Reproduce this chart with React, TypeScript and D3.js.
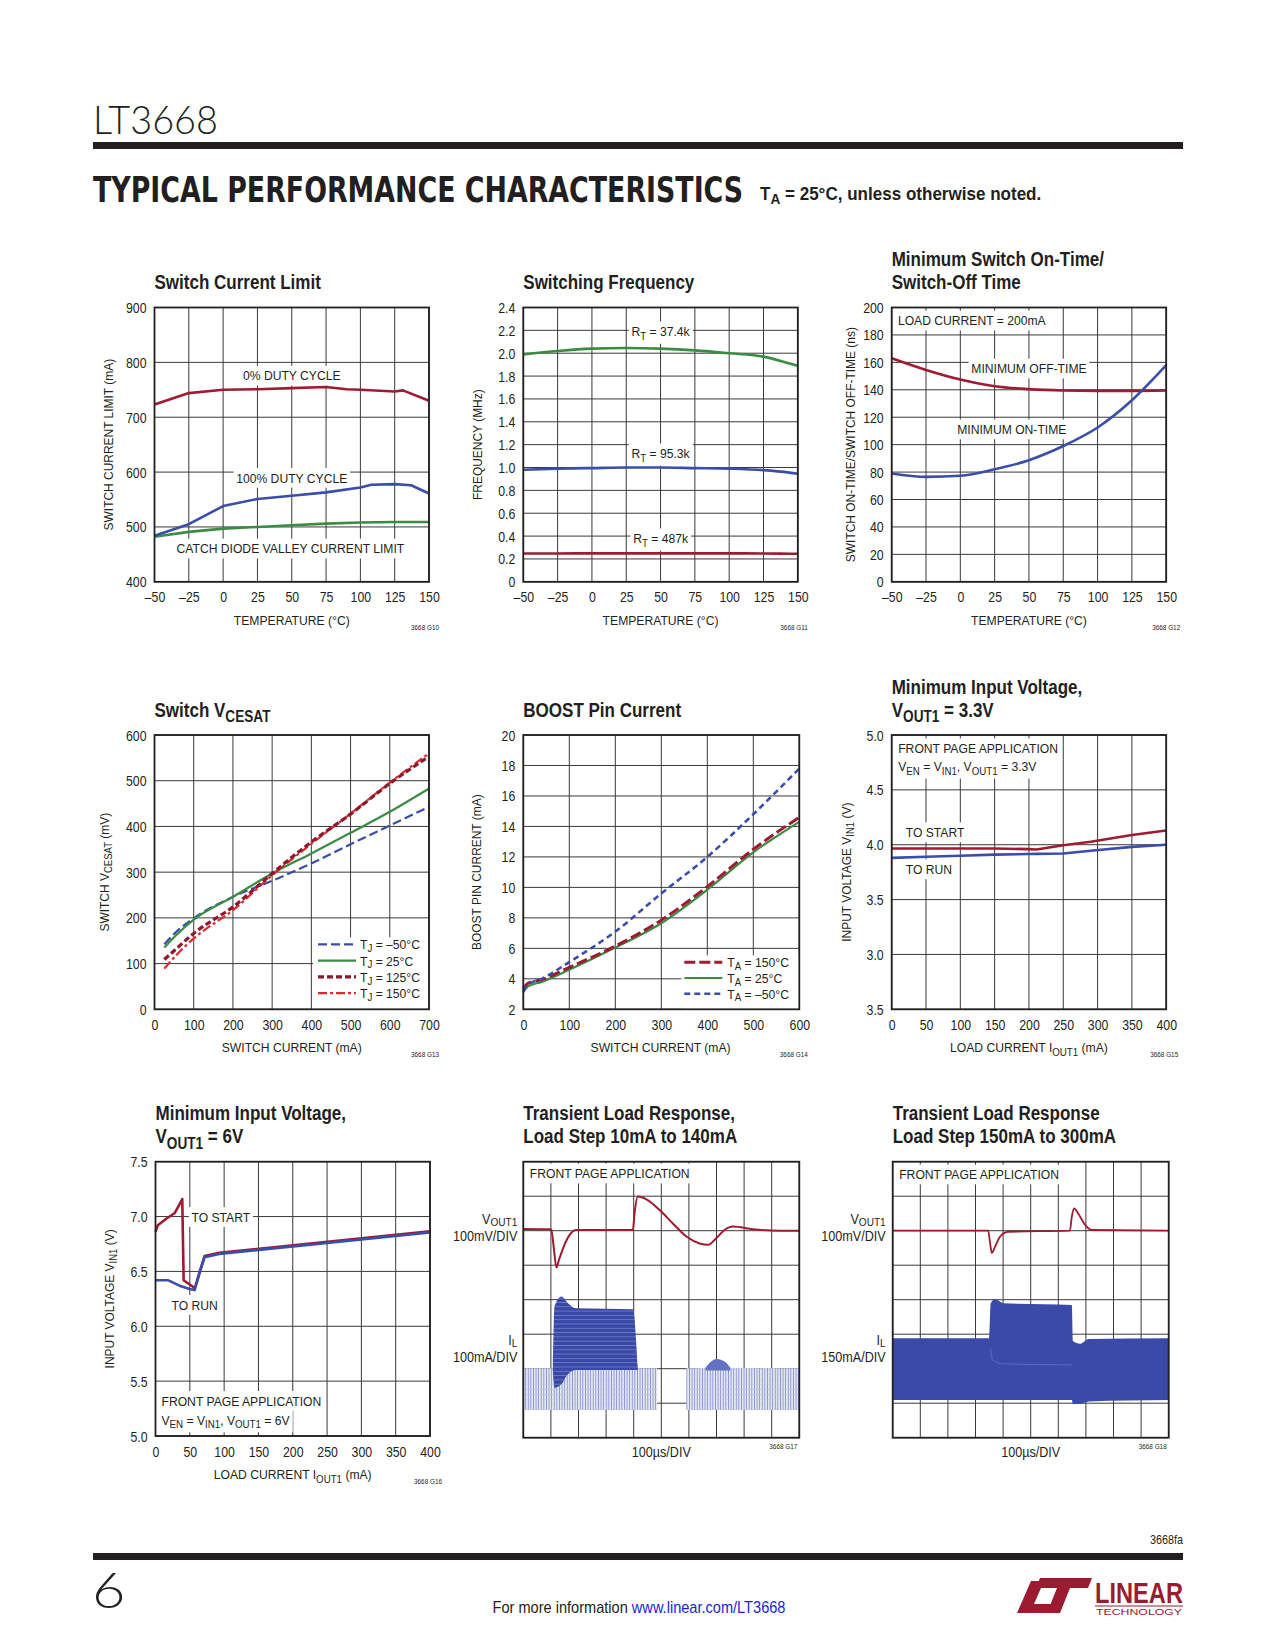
import React, { useEffect, useRef } from "react";
import * as d3 from "d3";

const FONT = "'Liberation Sans',Arial,Helvetica,sans-serif";
const INK = "#231f20";
const RED = "#9e1b32";
const BLUE = "#3b4dab";
const GREEN = "#3b8c43";
const GRID = "#3a3a3a";

// ---------------- data ----------------
const tempTicks = [-50, -25, 0, 25, 50, 75, 100, 125, 150];
const tempLabels = ["–50", "–25", "0", "25", "50", "75", "100", "125", "150"];

// Switch current limit
const sclYTicks = [400, 500, 600, 700, 800, 900];
const scl0Temp = [-50, -25, 0, 25, 50, 75, 90, 100, 125, 131, 150];
const scl0Val = [723, 744, 750, 751, 753, 755, 751, 750, 747, 749, 730];
const scl100Temp = [-50, -25, 0, 25, 50, 75, 100, 108, 125, 137, 150];
const scl100Val = [484, 505, 538, 551, 557, 563, 572, 577, 578, 576, 561];
const sclCatchTemp = [-50, -25, 0, 25, 50, 75, 100, 125, 150];
const sclCatchVal = [482, 491, 497, 500, 503, 506, 508, 509, 509];

// Switching frequency
const fsYTicks = [0, 0.2, 0.4, 0.6, 0.8, 1.0, 1.2, 1.4, 1.6, 1.8, 2.0, 2.2, 2.4];
const fsYLabels = ["0", "0.2", "0.4", "0.6", "0.8", "1.0", "1.2", "1.4", "1.6", "1.8", "2.0", "2.2", "2.4"];
const fsTemp = [-50, -25, 0, 25, 50, 75, 100, 125, 144, 150];
const fs374 = [1.99, 2.02, 2.04, 2.045, 2.04, 2.025, 2.0, 1.97, 1.91, 1.89];
const fs953 = [0.98, 0.99, 0.995, 1.0, 1.0, 0.995, 0.99, 0.977, 0.955, 0.945];
const fs487 = [0.248, 0.248, 0.249, 0.249, 0.249, 0.249, 0.249, 0.248, 0.246, 0.245];

// Min on/off time
const tonYTicks = [0, 20, 40, 60, 80, 100, 120, 140, 160, 180, 200];
const tonTemp = [-50, -25, 0, 25, 50, 75, 100, 125, 150];
const offTime = [163, 154.5, 147.5, 142.6, 140.5, 139.5, 139.2, 139.2, 139.5];
const onTime = [79, 76.5, 77.3, 82, 88.7, 99, 112.5, 132.4, 158];

// VCESAT
const vceXTicks = [0, 100, 200, 300, 400, 500, 600, 700];
const vceYTicks = [0, 100, 200, 300, 400, 500, 600];
const vceCurrent = [25, 55, 100, 200, 300, 400, 500, 600, 700];
const vceM50 = [142, 169, 199, 246, 281, 319, 361, 402, 443];
const vce25 = [135, 162, 196, 246, 297, 341, 386, 432, 483];
const vce125 = [109, 132, 166, 224, 297, 366, 427, 494, 553];
const vce150 = [89, 118, 155, 217, 293, 362, 428, 496, 560];

// BOOST pin current
const bstXTicks = [0, 100, 200, 300, 400, 500, 600];
const bstYTicks = [2, 4, 6, 8, 10, 12, 14, 16, 18, 20];
const bstCurrent = [0, 10, 40, 100, 200, 300, 400, 500, 600];
const bstM50 = [3.2, 3.6, 4.0, 5.1, 7.1, 9.6, 12.0, 14.8, 17.8];
const bst150 = [3.35, 3.7, 3.95, 4.75, 6.15, 7.85, 10.05, 12.5, 14.6];
const bst25 = [3.1, 3.5, 3.8, 4.6, 6.05, 7.65, 9.85, 12.3, 14.3];

// Min input voltage 3.3V
const loadTicks = [0, 50, 100, 150, 200, 250, 300, 350, 400];
const vin33YTicks = [2.5, 3.0, 3.5, 4.0, 4.5, 5.0];
const vin33YLabels = ["3.5", "3.0", "3.5", "4.0", "4.5", "5.0"];
const vin33Load = [0, 50, 100, 150, 200, 211, 250, 290, 350, 400];
const vin33Start = [3.966, 3.966, 3.966, 3.965, 3.96, 3.957, 3.995, 4.027, 4.088, 4.13];
const vin33Run = [3.88, 3.89, 3.9, 3.91, 3.915, 3.917, 3.92, 3.945, 3.98, 4.0];

// Min input voltage 6V
const vin6YTicks = [5.0, 5.5, 6.0, 6.5, 7.0, 7.5];
const vin6YLabels = ["5.0", "5.5", "6.0", "6.5", "7.0", "7.5"];
const vin6StartLoad = [0, 3.4, 15.6, 27.7, 34, 39, 41, 54.5, 57, 64, 71.5, 93, 400];
const vin6Start = [6.86, 6.92, 6.98, 7.03, 7.1, 7.16, 6.42, 6.36, 6.34, 6.49, 6.64, 6.67, 6.865];
const vin6RunLoad = [0, 18, 35, 49.6, 57, 64, 71.5, 93, 400];
const vin6Run = [6.42, 6.42, 6.37, 6.34, 6.33, 6.48, 6.63, 6.66, 6.855];

// Transients (scope divisions: x 0..10, y 0..8 from bottom)
const divX = [0, 1, 2, 3, 4, 5, 6, 7, 8, 9, 10];
const divY = [0, 1, 2, 3, 4, 5, 6, 7, 8];
const t1VoutX = [0, 1.01, 1.1, 1.2, 1.29, 1.44, 1.68, 1.92, 3.97, 4.03, 4.15, 4.46, 4.94, 5.42, 5.91, 6.39, 6.69, 6.99, 7.29, 7.59, 8.32, 9.29, 10];
const t1VoutY = [6.05, 6.04, 5.54, 4.93, 5.15, 5.49, 5.88, 6.02, 6.02, 6.5, 6.99, 6.91, 6.6, 6.21, 5.83, 5.63, 5.59, 5.78, 6.02, 6.12, 6.04, 6.0, 6.0];
const t1LightAX = [0, 4.85];
const t1LightATop = [2.01, 2.01];
const t1LightABot = [0.8, 0.8];
const t1LightBX = [5.9, 6.6, 6.8, 7.0, 7.3, 7.5, 10];
const t1LightBTop = [2.01, 2.03, 2.2, 2.28, 2.2, 2.03, 2.01];
const t1LightBBot = [0.8, 0.8, 0.8, 0.8, 0.8, 0.8, 0.8];
const t1HighX = [1.07, 1.13, 1.38, 1.62, 1.92, 3.97, 4.15];
const t1HighTop = [2.01, 3.8, 4.09, 3.9, 3.75, 3.72, 2.01];
const t1HighBot = [1.96, 1.45, 1.55, 1.85, 1.96, 1.96, 1.96];
const t1BumpX = [6.6, 6.8, 7.0, 7.3, 7.5];
const t1BumpTop = [2.03, 2.2, 2.28, 2.2, 2.03];
const t1BumpBot = [1.95, 1.95, 1.95, 1.95, 1.95];

const t2VoutX = [0, 3.46, 3.53, 3.59, 3.71, 3.89, 4.19, 6.42, 6.49, 6.57, 6.72, 6.97, 7.21, 10];
const t2VoutY = [6.0, 6.0, 5.63, 5.36, 5.54, 5.83, 5.97, 6.0, 6.41, 6.65, 6.5, 6.17, 6.02, 6.0];
const t2BandX = [0, 3.49, 3.55, 3.71, 4.01, 6.49, 6.53, 6.79, 7.1, 10];
const t2BandTop = [2.88, 2.88, 3.9, 4.01, 3.9, 3.85, 2.8, 2.72, 2.86, 2.88];
const t2BandBot = [1.09, 1.09, 1.09, 1.09, 1.09, 1.09, 0.98, 0.98, 1.05, 1.09];
const t2LowEnvX = [3.55, 3.62, 4.01, 6.49];
const t2LowEnvY = [2.6, 2.25, 2.14, 2.11];

// ---------------- layout ----------------
const COL = [154.5, 523.3, 891.7];
const ROW = [307.5, 735, 1161.7];
const W = 274.5;
const H = 274.3;
const TW = 276;
const TH = 276;

type Seg = { t: string; sub?: boolean; fill?: string };
const S = (t: string): Seg[] => [{ t }];

function rich(parent: any, x: number, y: number, segs: Seg[], size: number, opts: any = {}) {
  const sx = opts.sx === undefined ? 0.9 : opts.sx;
  const rot = opts.rotate ? ` rotate(${opts.rotate})` : "";
  const g = parent.append("g").attr("transform", `translate(${x},${y})${rot} scale(${sx},1)`);
  const t = g
    .append("text")
    .attr("x", 0)
    .attr("y", 0)
    .attr("font-family", opts.family || FONT)
    .attr("font-size", size)
    .attr("text-anchor", opts.anchor || "start")
    .attr("fill", opts.fill || INK);
  if (opts.weight) t.attr("font-weight", opts.weight);
  let shifted = false;
  const sh = size * (opts.subShift || 0.26);
  segs.forEach((s) => {
    const ts = t.append("tspan").text(s.t);
    if (s.fill) ts.attr("fill", s.fill);
    if (s.sub) {
      ts.attr("font-size", size * 0.8);
      if (!shifted) {
        ts.attr("dy", sh);
        shifted = true;
      }
    } else if (shifted) {
      ts.attr("dy", -sh);
      shifted = false;
    }
  });
  if (opts.fit) {
    const len = (t.node() as SVGTextElement).getComputedTextLength();
    if (len > 0) g.attr("transform", `translate(${x},${y})${rot} scale(${opts.fit / len},1)`);
  }
  return t;
}

function withBg(t: any, padX = 3, padY = 2) {
  const node = t.node() as SVGTextElement;
  const b = node.getBBox();
  d3.select(node.parentNode as any)
    .insert("rect", () => node)
    .attr("x", b.x - padX)
    .attr("y", b.y - padY)
    .attr("width", b.width + 2 * padX)
    .attr("height", b.height + 2 * padY)
    .attr("fill", "#fff");
  return t;
}

function frame(svg: any, f: any) {
  const g = svg.append("g");
  const x = d3.scaleLinear().domain(f.xDomain).range([f.left, f.left + f.w]);
  const y = d3.scaleLinear().domain(f.yDomain).range([f.top + f.h, f.top]);
  const grid = g.append("g");
  f.xGrid.forEach((v: number) =>
    grid.append("line").attr("x1", x(v)).attr("x2", x(v)).attr("y1", f.top).attr("y2", f.top + f.h).attr("stroke", GRID).attr("stroke-width", 1)
  );
  f.yGrid.forEach((v: number) =>
    grid.append("line").attr("x1", f.left).attr("x2", f.left + f.w).attr("y1", y(v)).attr("y2", y(v)).attr("stroke", GRID).attr("stroke-width", 1)
  );
  const bands = g.append("g");
  const labels = g.append("g");
  const curves = g.append("g");
  g.append("rect")
    .attr("x", f.left)
    .attr("y", f.top)
    .attr("width", f.w)
    .attr("height", f.h)
    .attr("fill", "none")
    .attr("stroke", INK)
    .attr("stroke-width", 1.8);
  if (f.xTicks) {
    const ax = d3
      .axisBottom(x)
      .tickValues(f.xTicks)
      .tickFormat((_d: any, i: number) => f.xLabels[i])
      .tickSize(0)
      .tickPadding(0);
    const a = g.append("g").attr("transform", `translate(0,${f.top + f.h + 20.5})`).call(ax);
    a.select(".domain").remove();
    a.selectAll("text")
      .attr("y", 0)
      .attr("dy", 0)
      .attr("font-family", FONT)
      .attr("font-size", 14)
      .attr("fill", INK)
      .attr("transform", "scale(0.88,1)");
  }
  if (f.yTicks) {
    const ay = d3
      .axisLeft(y)
      .tickValues(f.yTicks)
      .tickFormat((_d: any, i: number) => f.yLabels[i])
      .tickSize(0)
      .tickPadding(0);
    const a = g.append("g").attr("transform", `translate(${f.left - 8},0)`).call(ay);
    a.select(".domain").remove();
    a.selectAll("text")
      .attr("x", 0)
      .attr("dy", "0.36em")
      .attr("font-family", FONT)
      .attr("font-size", 14)
      .attr("fill", INK)
      .attr("transform", "scale(0.88,1)");
  }
  return { g, x, y, bands, labels, curves, f };
}

function title(svg: any, x: number, top: number, lines: Seg[][]) {
  const n = lines.length;
  lines.forEach((segs, i) => {
    rich(svg, x, top - 18.5 - (n - 1 - i) * 23, segs, 20.5, { weight: "bold", sx: 0.83 });
  });
}

function yTitle(svg: any, cx: number, cy: number, segs: Seg[]) {
  rich(svg, cx, cy, segs, 13, { anchor: "middle", rotate: -90, sx: 0.92 }).attr("dominant-baseline", "central");
}

function xTitle(svg: any, cx: number, y: number, segs: Seg[]) {
  rich(svg, cx, y, segs, 13.5, { anchor: "middle", sx: 0.9 });
}

function figId(svg: any, x: number, y: number, txt: string) {
  rich(svg, x, y, S(txt), 7.5, { anchor: "end", sx: 0.85 });
}

function note(parent: any, x: number, y: number, segs: Seg[], anchor = "start", size = 13.5) {
  return withBg(rich(parent, x, y, segs, size, { anchor, sx: 0.9 }));
}

function curve(parent: any, xs: number[], ys: number[], sx: any, sy: any, color: string, width: number, dash: string | null = null, cv: any = d3.curveMonotoneX) {
  const gen = d3
    .line<number>()
    .x((_d, i) => sx(xs[i]))
    .y((d) => sy(d))
    .curve(cv);
  const p = parent
    .append("path")
    .attr("d", gen(ys))
    .attr("fill", "none")
    .attr("stroke", color)
    .attr("stroke-width", width)
    .attr("stroke-linejoin", "round");
  if (dash) p.attr("stroke-dasharray", dash);
  return p;
}

function band(parent: any, xs: number[], top: number[], bot: number[], sx: any, sy: any, fill: string, cv: any = d3.curveLinear) {
  const gen = d3
    .area<number>()
    .x((_d, i) => sx(xs[i]))
    .y0((_d, i) => sy(bot[i]))
    .y1((d) => sy(d))
    .curve(cv);
  return parent.append("path").attr("d", gen(top)).attr("fill", fill);
}

function legend(c: any, rows: { segs: Seg[]; color: string; width: number; dash: string | null }[], bgLeft: number, bgTop: number, lineX1: number, lineX2: number, textX: number, firstY: number, step: number) {
  const f = c.f;
  c.labels
    .append("rect")
    .attr("x", f.left + f.w - bgLeft)
    .attr("y", f.top + f.h - bgTop)
    .attr("width", bgLeft)
    .attr("height", bgTop)
    .attr("fill", "#fff");
  const R = f.left + f.w;
  const B = f.top + f.h;
  rows.forEach((r, i) => {
    const yy = B - firstY + i * step;
    const ln = c.labels
      .append("line")
      .attr("x1", R - lineX1)
      .attr("x2", R - lineX2)
      .attr("y1", yy)
      .attr("y2", yy)
      .attr("stroke", r.color)
      .attr("stroke-width", r.width);
    if (r.dash) ln.attr("stroke-dasharray", r.dash);
    rich(c.labels, R - textX, yy + 5, r.segs, 13.5, { sx: 0.9, subShift: 0.2 });
  });
}

function header(svg: any) {
  rich(svg, 93, 134, S("LT3668"), 40, { family: "Lato,'Open Sans',sans-serif", weight: 300, fit: 125 });
  svg.append("rect").attr("x", 93).attr("y", 142).attr("width", 1090).attr("height", 7).attr("fill", INK);
  rich(svg, 93, 202, S("TYPICAL PERFORMANCE CHARACTERISTICS"), 36, { family: "'DejaVu Sans Condensed','DejaVu Sans',sans-serif", weight: "bold", fit: 650 });
  rich(svg, 760, 200, [{ t: "T" }, { t: "A", sub: true }, { t: " = 25°C, unless otherwise noted." }], 17.5, { weight: "bold", fit: 281, subShift: 0.22 });
}

function footer(svg: any) {
  rich(svg, 1183, 1544, S("3668fa"), 12, { anchor: "end", sx: 0.9 });
  svg.append("rect").attr("x", 93).attr("y", 1553).attr("width", 1090).attr("height", 7).attr("fill", INK);
  rich(svg, 92, 1608, S("6"), 50, { family: "Lato,'Open Sans',sans-serif", weight: 300, sx: 1.15 });
  rich(svg, 639, 1613, [{ t: "For more information " }, { t: "www.linear.com/LT3668", fill: "#1d1dd6" }], 16, { anchor: "middle", fit: 293 });
  const LR = "#9b1b30";
  svg
    .append("polygon")
    .attr("points", "1017,1613 1031,1581 1044,1581 1034,1604 1052,1604 1048,1613")
    .attr("fill", LR);
  svg
    .append("polygon")
    .attr("points", "1040,1578 1092,1578 1088,1588 1070,1588 1060,1613 1047,1613 1057,1588 1036,1588")
    .attr("fill", LR);
  rich(svg, 1095, 1603, S("LINEAR"), 29, { weight: "bold", fill: LR, fit: 88 });
  svg.append("line").attr("x1", 1095).attr("x2", 1183).attr("y1", 1606).attr("y2", 1606).attr("stroke", LR).attr("stroke-width", 1);
  rich(svg, 1096, 1615, S("TECHNOLOGY"), 9, { fill: LR, fit: 86 });
}

function drawAll(svg: any) {
  const defs = svg.append("defs");
  const pl = defs.append("pattern").attr("id", "ilLight").attr("patternUnits", "userSpaceOnUse").attr("width", 2.6).attr("height", 5);
  pl.append("rect").attr("width", 2.6).attr("height", 5).attr("fill", "#e6e9f6");
  pl.append("rect").attr("x", 0).attr("width", 0.8).attr("height", 5).attr("fill", "#7a86ca");
  pl.append("rect").attr("y", 4.3).attr("width", 2.6).attr("height", 0.5).attr("fill", "#bcc2e7");
  const pd = defs.append("pattern").attr("id", "ilDark").attr("patternUnits", "userSpaceOnUse").attr("width", 6).attr("height", 4.3);
  pd.append("rect").attr("width", 6).attr("height", 4.3).attr("fill", "#3a49a8");
  pd.append("rect").attr("y", 3.6).attr("width", 6).attr("height", 0.6).attr("fill", "#8792d0");

  header(svg);
  footer(svg);

  // ---- Chart 1: Switch Current Limit
  {
    const L = COL[0], T = ROW[0];
    const c = frame(svg, { left: L, top: T, w: W, h: H, xDomain: [-50, 150], yDomain: [400, 900], xGrid: tempTicks, yGrid: sclYTicks, xTicks: tempTicks, xLabels: tempLabels, yTicks: sclYTicks, yLabels: sclYTicks.map(String) });
    title(svg, L, T, [S("Switch Current Limit")]);
    yTitle(svg, L - 46, T + H / 2, S("SWITCH CURRENT LIMIT (mA)"));
    xTitle(svg, L + W / 2, T + H + 43, S("TEMPERATURE (°C)"));
    figId(svg, L + W + 10, T + H + 48, "3668 G10");
    note(c.labels, c.x(50), c.y(767), S("0% DUTY CYCLE"), "middle");
    note(c.labels, c.x(50), c.y(581), S("100% DUTY CYCLE"), "middle");
    note(c.labels, c.x(49), c.y(452), S("CATCH DIODE VALLEY CURRENT LIMIT"), "middle");
    curve(c.curves, sclCatchTemp, sclCatchVal, c.x, c.y, GREEN, 2.6, null, d3.curveLinear);
    curve(c.curves, scl100Temp, scl100Val, c.x, c.y, BLUE, 2.6, null, d3.curveLinear);
    curve(c.curves, scl0Temp, scl0Val, c.x, c.y, RED, 2.6, null, d3.curveLinear);
  }

  // ---- Chart 2: Switching Frequency
  {
    const L = COL[1], T = ROW[0];
    const c = frame(svg, { left: L, top: T, w: W, h: H, xDomain: [-50, 150], yDomain: [0, 2.4], xGrid: tempTicks, yGrid: fsYTicks, xTicks: tempTicks, xLabels: tempLabels, yTicks: fsYTicks, yLabels: fsYLabels });
    title(svg, L, T, [S("Switching Frequency")]);
    yTitle(svg, L - 45, T + H / 2, S("FREQUENCY (MHz)"));
    xTitle(svg, L + W / 2, T + H + 43, S("TEMPERATURE (°C)"));
    figId(svg, L + W + 10, T + H + 48, "3668 G11");
    note(c.labels, c.x(50), c.y(2.15), [{ t: "R" }, { t: "T", sub: true }, { t: " = 37.4k" }], "middle");
    note(c.labels, c.x(50), c.y(1.082), [{ t: "R" }, { t: "T", sub: true }, { t: " = 95.3k" }], "middle");
    note(c.labels, c.x(50), c.y(0.339), [{ t: "R" }, { t: "T", sub: true }, { t: " = 487k" }], "middle");
    curve(c.curves, fsTemp, fs374, c.x, c.y, GREEN, 2.6);
    curve(c.curves, fsTemp, fs953, c.x, c.y, BLUE, 2.6);
    curve(c.curves, fsTemp, fs487, c.x, c.y, RED, 2.6);
  }

  // ---- Chart 3: Min on/off time
  {
    const L = COL[2], T = ROW[0];
    const c = frame(svg, { left: L, top: T, w: W, h: H, xDomain: [-50, 150], yDomain: [0, 200], xGrid: tempTicks, yGrid: tonYTicks, xTicks: tempTicks, xLabels: tempLabels, yTicks: tonYTicks, yLabels: tonYTicks.map(String) });
    title(svg, L, T, [S("Minimum Switch On-Time/"), S("Switch-Off Time")]);
    yTitle(svg, L - 41, T + H / 2, S("SWITCH ON-TIME/SWITCH OFF-TIME (ns)"));
    xTitle(svg, L + W / 2, T + H + 43, S("TEMPERATURE (°C)"));
    figId(svg, L + W + 14, T + H + 48, "3668 G12");
    note(c.labels, c.x(-45.5), c.y(187), S("LOAD CURRENT = 200mA"), "start");
    note(c.labels, c.x(50), c.y(152), S("MINIMUM OFF-TIME"), "middle");
    note(c.labels, c.x(37.5), c.y(107.7), S("MINIMUM ON-TIME"), "middle");
    curve(c.curves, tonTemp, offTime, c.x, c.y, RED, 2.6);
    curve(c.curves, tonTemp, onTime, c.x, c.y, BLUE, 2.6);
  }

  // ---- Chart 4: VCESAT
  {
    const L = COL[0], T = ROW[1];
    const c = frame(svg, { left: L, top: T, w: W, h: H, xDomain: [0, 700], yDomain: [0, 600], xGrid: vceXTicks, yGrid: vceYTicks, xTicks: vceXTicks, xLabels: vceXTicks.map(String), yTicks: vceYTicks, yLabels: vceYTicks.map(String) });
    title(svg, L, T, [[{ t: "Switch V" }, { t: "CESAT", sub: true }]]);
    yTitle(svg, L - 50, T + H / 2, [{ t: "SWITCH V" }, { t: "CESAT", sub: true }, { t: " (mV)" }]);
    xTitle(svg, L + W / 2, T + H + 43, S("SWITCH CURRENT (mA)"));
    figId(svg, L + W + 10, T + H + 48, "3668 G13");
    const rows = [
      { segs: [{ t: "T" }, { t: "J", sub: true }, { t: " = –50°C" }], color: BLUE, width: 2.2, dash: "9,4" },
      { segs: [{ t: "T" }, { t: "J", sub: true }, { t: " = 25°C" }], color: GREEN, width: 2.2, dash: null },
      { segs: [{ t: "T" }, { t: "J", sub: true }, { t: " = 125°C" }], color: "#8b1a2c", width: 3.2, dash: "6,3" },
      { segs: [{ t: "T" }, { t: "J", sub: true }, { t: " = 150°C" }], color: "#e2262d", width: 2.2, dash: "9,3,3,3" },
    ];
    legend(c, rows, 116, 72, 111, 73, 69, 65, 16.3);
    curve(c.curves, vceCurrent, vceM50, c.x, c.y, BLUE, 2.2, "9,4");
    curve(c.curves, vceCurrent, vce25, c.x, c.y, GREEN, 2.2);
    curve(c.curves, vceCurrent, vce150, c.x, c.y, "#e2262d", 2.2, "9,3,3,3");
    curve(c.curves, vceCurrent, vce125, c.x, c.y, "#8b1a2c", 3.2, "6,3");
  }

  // ---- Chart 5: BOOST pin current
  {
    const L = COL[1], T = ROW[1];
    const c = frame(svg, { left: L, top: T, w: W + 1.5, h: H, xDomain: [0, 600], yDomain: [2, 20], xGrid: bstXTicks, yGrid: bstYTicks, xTicks: bstXTicks, xLabels: bstXTicks.map(String), yTicks: bstYTicks, yLabels: bstYTicks.map(String) });
    title(svg, L, T, [S("BOOST Pin Current")]);
    yTitle(svg, L - 46, T + H / 2, S("BOOST PIN CURRENT (mA)"));
    xTitle(svg, L + W / 2, T + H + 43, S("SWITCH CURRENT (mA)"));
    figId(svg, L + W + 10, T + H + 48, "3668 G14");
    const rows = [
      { segs: [{ t: "T" }, { t: "A", sub: true }, { t: " = 150°C" }], color: RED, width: 3, dash: "11,4" },
      { segs: [{ t: "T" }, { t: "A", sub: true }, { t: " = 25°C" }], color: GREEN, width: 2.2, dash: null },
      { segs: [{ t: "T" }, { t: "A", sub: true }, { t: " = –50°C" }], color: BLUE, width: 2.6, dash: "6,4" },
    ];
    legend(c, rows, 118, 54, 115, 77, 72, 47, 15.7);
    curve(c.curves, bstCurrent, bst25, c.x, c.y, GREEN, 2.2);
    curve(c.curves, bstCurrent, bst150, c.x, c.y, RED, 3, "11,4");
    curve(c.curves, bstCurrent, bstM50, c.x, c.y, BLUE, 2.6, "6,4");
  }

  // ---- Chart 6: Min input voltage 3.3V
  {
    const L = COL[2], T = ROW[1];
    const c = frame(svg, { left: L, top: T, w: W, h: H, xDomain: [0, 400], yDomain: [2.5, 5.0], xGrid: loadTicks, yGrid: vin33YTicks, xTicks: loadTicks, xLabels: loadTicks.map(String), yTicks: vin33YTicks, yLabels: vin33YLabels });
    title(svg, L, T, [S("Minimum Input Voltage,"), [{ t: "V" }, { t: "OUT1", sub: true }, { t: " = 3.3V" }]]);
    yTitle(svg, L - 45, T + H / 2, [{ t: "INPUT VOLTAGE V" }, { t: "IN1", sub: true }, { t: " (V)" }]);
    xTitle(svg, L + W / 2, T + H + 43, [{ t: "LOAD CURRENT I" }, { t: "OUT1", sub: true }, { t: " (mA)" }]);
    figId(svg, L + W + 12, T + H + 48, "3668 G15");
    note(c.labels, L + 6.5, T + 18, S("FRONT PAGE APPLICATION"));
    note(c.labels, L + 6.5, T + 36, [{ t: "V" }, { t: "EN", sub: true }, { t: " = V" }, { t: "IN1", sub: true }, { t: ", V" }, { t: "OUT1", sub: true }, { t: " = 3.3V" }]);
    note(c.labels, L + 14, T + 102, S("TO START"));
    note(c.labels, L + 14, T + 139, S("TO RUN"));
    curve(c.curves, vin33Load, vin33Start, c.x, c.y, RED, 2.6, null, d3.curveLinear);
    curve(c.curves, vin33Load, vin33Run, c.x, c.y, BLUE, 2.6, null, d3.curveLinear);
  }

  // ---- Chart 7: Min input voltage 6V
  {
    const L = COL[0] + 1, T = ROW[2];
    const c = frame(svg, { left: L, top: T, w: W, h: H, xDomain: [0, 400], yDomain: [5.0, 7.5], xGrid: loadTicks, yGrid: vin6YTicks, xTicks: loadTicks, xLabels: loadTicks.map(String), yTicks: vin6YTicks, yLabels: vin6YLabels });
    title(svg, L, T, [S("Minimum Input Voltage,"), [{ t: "V" }, { t: "OUT1", sub: true }, { t: " = 6V" }]]);
    yTitle(svg, L - 46, T + H / 2, [{ t: "INPUT VOLTAGE V" }, { t: "IN1", sub: true }, { t: " (V)" }]);
    xTitle(svg, L + W / 2, T + H + 43, [{ t: "LOAD CURRENT I" }, { t: "OUT1", sub: true }, { t: " (mA)" }]);
    figId(svg, L + W + 12, T + H + 48, "3668 G16");
    note(c.labels, L + 36, T + 60, S("TO START"));
    note(c.labels, L + 16, T + 148, S("TO RUN"));
    note(c.labels, L + 6, T + 244, S("FRONT PAGE APPLICATION"));
    note(c.labels, L + 6, T + 263, [{ t: "V" }, { t: "EN", sub: true }, { t: " = V" }, { t: "IN1", sub: true }, { t: ", V" }, { t: "OUT1", sub: true }, { t: " = 6V" }]);
    curve(c.curves, vin6StartLoad, vin6Start, c.x, c.y, RED, 2.6, null, d3.curveLinear);
    curve(c.curves, vin6RunLoad, vin6Run, c.x, c.y, BLUE, 2.6, null, d3.curveLinear);
  }

  // ---- Chart 8: Transient 10mA -> 140mA
  {
    const L = COL[1], T = ROW[2];
    const c = frame(svg, { left: L, top: T, w: TW, h: TH, xDomain: [0, 10], yDomain: [0, 8], xGrid: divX, yGrid: divY });
    title(svg, L, T, [S("Transient Load Response,"), S("Load Step 10mA to 140mA")]);
    rich(svg, L - 6, T + 62, [{ t: "V" }, { t: "OUT1", sub: true }], 14, { anchor: "end", subShift: 0.18 });
    rich(svg, L - 6, T + 79, S("100mV/DIV"), 14, { anchor: "end" });
    rich(svg, L - 6, T + 183, [{ t: "I" }, { t: "L", sub: true }], 14, { anchor: "end", subShift: 0.18 });
    rich(svg, L - 6, T + 200, S("100mA/DIV"), 14, { anchor: "end" });
    rich(svg, L + TW / 2, T + TH + 19.5, S("100µs/DIV"), 14, { anchor: "middle" });
    figId(svg, L + TW - 2, T + TH + 11, "3668 G17");
    note(c.labels, L + 6.5, T + 16.5, S("FRONT PAGE APPLICATION"));
    band(c.bands, t1LightAX, t1LightATop, t1LightABot, c.x, c.y, "url(#ilLight)");
    band(c.bands, t1LightBX, t1LightBTop, t1LightBBot, c.x, c.y, "url(#ilLight)", d3.curveMonotoneX);
    band(c.bands, t1BumpX, t1BumpTop, t1BumpBot, c.x, c.y, "#6572c2", d3.curveMonotoneX);
    band(c.bands, t1HighX, t1HighTop, t1HighBot, c.x, c.y, "url(#ilDark)", d3.curveMonotoneX);
    curve(c.curves, t1VoutX, t1VoutY, c.x, c.y, RED, 2, null, d3.curveMonotoneX);
  }

  // ---- Chart 9: Transient 150mA -> 300mA
  {
    const L = COL[2] + 1, T = ROW[2];
    const c = frame(svg, { left: L, top: T, w: TW, h: TH, xDomain: [0, 10], yDomain: [0, 8], xGrid: divX, yGrid: divY });
    title(svg, L, T, [S("Transient Load Response"), S("Load Step 150mA to 300mA")]);
    rich(svg, L - 7, T + 62, [{ t: "V" }, { t: "OUT1", sub: true }], 14, { anchor: "end", subShift: 0.18 });
    rich(svg, L - 7, T + 79, S("100mV/DIV"), 14, { anchor: "end" });
    rich(svg, L - 7, T + 183, [{ t: "I" }, { t: "L", sub: true }], 14, { anchor: "end", subShift: 0.18 });
    rich(svg, L - 7, T + 200, S("150mA/DIV"), 14, { anchor: "end" });
    rich(svg, L + TW / 2, T + TH + 19.5, S("100µs/DIV"), 14, { anchor: "middle" });
    figId(svg, L + TW - 2, T + TH + 11, "3668 G18");
    note(c.labels, L + 6.5, T + 17.5, S("FRONT PAGE APPLICATION"));
    band(c.bands, t2BandX, t2BandTop, t2BandBot, c.x, c.y, "#3b4aa8", d3.curveMonotoneX);
    curve(c.bands, t2LowEnvX, t2LowEnvY, c.x, c.y, "#5d6abd", 1);
    curve(c.curves, t2VoutX, t2VoutY, c.x, c.y, RED, 1.8, null, d3.curveMonotoneX);
  }
}

export default function App() {
  const ref = useRef<SVGSVGElement | null>(null);
  useEffect(() => {
    const svg = d3.select(ref.current as SVGSVGElement);
    svg.selectAll("*").remove();
    drawAll(svg);
  }, []);
  return (
    <svg
      ref={ref}
      width={1275}
      height={1650}
      viewBox="0 0 1275 1650"
      style={{ position: "absolute", left: 0, top: 0, background: "#fff" }}
    />
  );
}
